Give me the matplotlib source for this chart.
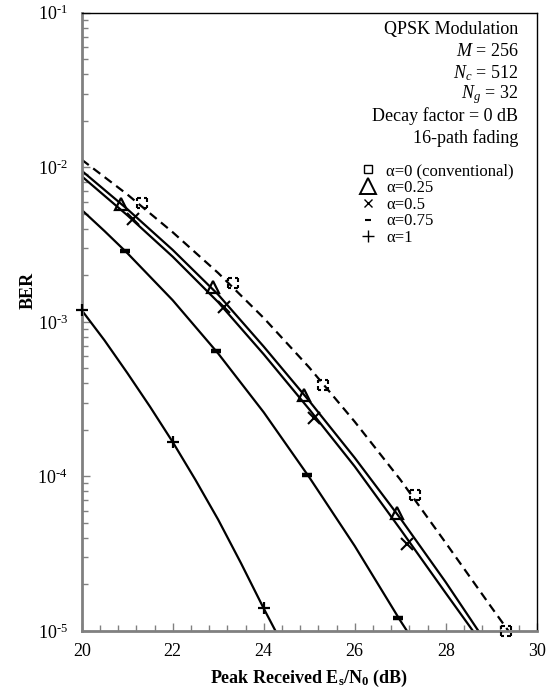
import numpy as np
import matplotlib
matplotlib.use("Agg")
import matplotlib.pyplot as plt
from matplotlib.lines import Line2D
from matplotlib.path import Path
from matplotlib.ticker import MultipleLocator, LogLocator, FixedLocator, NullFormatter

plt.rcParams['font.family'] = ['Liberation Serif', 'DejaVu Serif']
plt.rcParams['mathtext.fontset'] = 'custom'
plt.rcParams['mathtext.rm'] = 'Liberation Serif'
plt.rcParams['mathtext.it'] = 'Liberation Serif:italic'
plt.rcParams['mathtext.bf'] = 'Liberation Serif:bold'

# analytical curves (lines)
x_a0 = [20, 21, 22, 23, 24, 25, 26, 27, 28, 29, 29.38]
ber_a0 = [1.12e-2, 6.68e-3, 3.80e-3, 2.07e-3, 1.06e-3, 5.07e-4, 2.26e-4, 9.55e-5, 3.72e-5, 1.43e-5, 1.0e-5]

x_a025 = [20, 21, 22, 23, 24, 25, 26, 27, 28, 28.72]
ber_a025 = [9.5e-3, 5.37e-3, 2.92e-3, 1.50e-3, 6.92e-4, 3.08e-4, 1.32e-4, 5.37e-5, 2.07e-5, 1.0e-5]

x_a05 = [20, 21, 22, 23, 24, 25, 26, 27, 28, 28.6]
ber_a05 = [8.75e-3, 4.90e-3, 2.64e-3, 1.34e-3, 6.17e-4, 2.72e-4, 1.16e-4, 4.57e-5, 1.76e-5, 1.0e-5]

x_a075 = [20, 20.5, 21, 22, 23, 24, 25, 26, 27, 27.15]
ber_a075 = [5.3e-3, 3.87e-3, 2.79e-3, 1.38e-3, 6.24e-4, 2.60e-4, 9.89e-5, 3.55e-5, 1.17e-5, 1.0e-5]

x_a1 = [20, 20.5, 21, 21.5, 22, 22.5, 23, 23.5, 24, 24.26]
ber_a1 = [1.19e-3, 7.6e-4, 4.68e-4, 2.83e-4, 1.67e-4, 9.5e-5, 5.25e-5, 2.75e-5, 1.40e-5, 1.0e-5]

# simulated points (markers)
xm_a0 = [21.32, 23.33, 25.31, 27.33, 29.32]
bm_a0 = [5.85e-3, 1.78e-3, 3.91e-4, 7.6e-5, 1.0e-5]
xm_a025 = [20.87, 22.89, 24.89, 26.92]
bm_a025 = [5.77e-3, 1.69e-3, 3.37e-4, 5.78e-5]
xm_a05 = [21.13, 23.13, 25.11, 27.14]
bm_a05 = [4.61e-3, 1.25e-3, 2.37e-4, 3.64e-5]
xm_a075 = [20.95, 22.95, 24.96, 26.96]
bm_a075 = [2.89e-3, 6.45e-4, 1.02e-4, 1.21e-5]
xm_a1 = [20, 22, 24]
bm_a1 = [1.19e-3, 1.67e-4, 1.40e-5]

labels = [u"\u03b1=0 (conventional)", u"\u03b1=0.25", u"\u03b1=0.5", u"\u03b1=0.75", u"\u03b1=1"]
info_lines = ["QPSK Modulation", "$M$ = 256", "$N_c$ = 512", "$N_g$ = 32",
              "Decay factor = 0 dB", "16-path fading"]
ytick_vals = [1e-5, 1e-4, 1e-3, 1e-2, 1e-1]
ytick_exps = [5, 4, 3, 2, 1]

# square drawn with a broken (dashed) outline, like the original
sq_verts = [(-1, 1), (-0.15, 1), (0.35, 1), (1, 1),
            (1, 1), (1, 0.15), (1, -0.35), (1, -1),
            (1, -1), (0.15, -1), (-0.35, -1), (-1, -1),
            (-1, -1), (-1, -0.15), (-1, 0.35), (-1, 1)]
sq_codes = [Path.MOVETO, Path.LINETO] * 8
dashed_square = Path(sq_verts, sq_codes)

fig = plt.figure(figsize=(5.56, 6.88), dpi=100)
ax = fig.add_axes([81.7 / 556, 57 / 688, 455 / 556, 618.3 / 688])

lw = 1.6
ax.plot(x_a0, ber_a0, color='black', lw=lw, ls=(0, (4, 2.5)))
ax.plot(x_a025, ber_a025, color='black', lw=lw)
ax.plot(x_a05, ber_a05, color='black', lw=lw)
ax.plot(x_a075, ber_a075, color='black', lw=lw)
ax.plot(x_a1, ber_a1, color='black', lw=lw)

mk = dict(ls='none', mec='black', clip_on=False, zorder=4)
ax.plot(xm_a0, bm_a0, marker=dashed_square, ms=7.5, mfc='none', mew=1.5, **mk)
ax.plot(xm_a025, bm_a025, marker='^', ms=9, mfc='none', mew=1.6, **mk)
ax.plot(xm_a05, bm_a05, marker='x', ms=8, mew=1.5, **mk)
ax.plot(xm_a075, bm_a075, marker='_', ms=7, mew=3.2, **mk)
ax.plot(xm_a1, bm_a1, marker='+', ms=8.5, mew=1.6, **mk)

ax.set_yscale('log')
ax.set_xlim(20, 30)
ax.set_ylim(1e-5, 1e-1)

ax.xaxis.set_major_locator(MultipleLocator(2))
ax.xaxis.set_minor_locator(MultipleLocator(0.4))
ax.yaxis.set_major_locator(FixedLocator(ytick_vals))
ax.yaxis.set_minor_locator(LogLocator(base=10, subs=np.arange(2, 10), numticks=20))
ax.yaxis.set_minor_formatter(NullFormatter())
ax.set_yticklabels([r'$\mathregular{10^{\text{-%d}}}$' % k for k in ytick_exps])

ax.tick_params(axis='both', which='both', direction='in', colors='#808080',
               labelcolor='black', labelsize=13, top=False, right=False)
ax.tick_params(axis='both', which='major', length=6, width=1)
ax.tick_params(axis='both', which='minor', length=4, width=1)
ax.tick_params(axis='x', pad=9)
ax.tick_params(axis='y', pad=10)

for side in ['left', 'bottom']:
    ax.spines[side].set_color('#808080')
    ax.spines[side].set_linewidth(2)
for side in ['top', 'right']:
    ax.spines[side].set_color('black')
    ax.spines[side].set_linewidth(1)

ax.set_xlabel(r'Peak Received E$_\mathbf{s}$/N$_\mathbf{0}$ (dB)', fontsize=13, fontweight='bold', labelpad=5)
ax.set_ylabel('BER', fontsize=13, fontweight='bold', va='center')
ax.yaxis.set_label_coords(-0.118, 0.55)

# parameter box, one line every ~21.6 px
for i, line in enumerate(info_lines):
    ax.annotate(line, xy=(0.96, 0.973), xycoords='axes fraction',
                xytext=(0, -15.6 * i), textcoords='offset points',
                ha='right', va='center', fontsize=13)

handles = [
    Line2D([], [], ls='none', marker='s', ms=6, mfc='none', mec='black', mew=1),
    Line2D([], [], ls='none', marker='^', ms=11, mfc='none', mec='black', mew=1.4),
    Line2D([], [], ls='none', marker='x', ms=6, mec='black', mew=1),
    Line2D([], [], ls='none', marker='_', ms=5, mec='black', mew=1.5),
    Line2D([], [], ls='none', marker='+', ms=8, mec='black', mew=1),
]
ax.legend(handles, labels, loc='upper left', bbox_to_anchor=(0.61, 0.757), frameon=False,
          fontsize=12, handlelength=1.0, handletextpad=0.6, labelspacing=0.05,
          borderaxespad=0, borderpad=0)

fig.savefig('out.png', dpi=100)
